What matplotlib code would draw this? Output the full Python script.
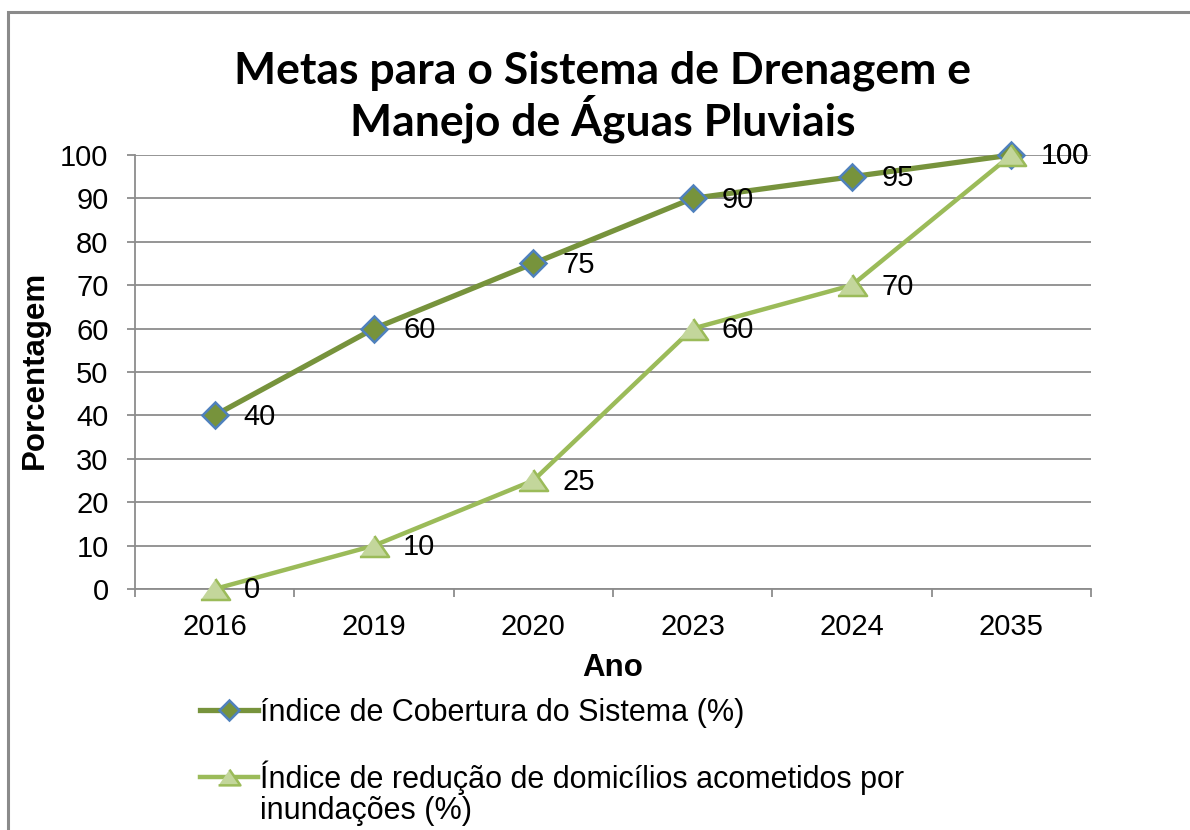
import matplotlib
matplotlib.use('Agg')
import matplotlib.pyplot as plt
from matplotlib.patches import Rectangle

# data
anos = ['2016', '2019', '2020', '2023', '2024', '2035']
cobertura = [40, 60, 75, 90, 95, 100]
reducao = [0, 10, 25, 60, 70, 100]
yticks = list(range(0, 101, 10))

label_cob = 'índice de Cobertura do Sistema (%)'
label_red_1 = 'Índice de redução de domicílios acometidos por'
label_red_2 = 'inundações (%)'

plt.rcParams['font.family'] = ['Liberation Sans', 'DejaVu Sans']

W, H = 1190, 830
fig = plt.figure(figsize=(W / 100, H / 100), dpi=100)
fig.patch.set_facecolor('white')

#outer frame (cropped on right and bottom)
fig.patches.append(Rectangle((8 / W, -0.1), 1.2, (H - 12) / H + 0.1, transform=fig.transFigure,
                             fill=False, edgecolor='#8a8a8a', lw=2.2))

ax = fig.add_axes([135 / W, 1 - 589 / H, (1091 - 135) / W, (589 - 155) / H])
x = list(range(len(anos)))

#grid and axes
ax.set_xlim(-0.5, len(anos) - 0.5)
ax.set_ylim(0, 100)
ax.set_yticks(yticks)
ax.set_xticks(x)
ax.set_xticklabels(anos)
ax.set_xticks([i - 0.5 for i in range(len(anos) + 1)], minor=True)
ax.yaxis.grid(True, color='#8c8c8c', lw=1.3)
ax.set_axisbelow(True)
for s in ['top', 'right']:
    ax.spines[s].set_visible(False)
for s in ['left', 'bottom']:
    ax.spines[s].set_color('#8c8c8c')
    ax.spines[s].set_linewidth(1.3)
ax.tick_params(axis='y', length=6, color='#8c8c8c', width=1.3, labelsize=21, pad=13)
ax.tick_params(axis='x', which='major', length=0, labelsize=21, pad=17)
ax.tick_params(axis='x', which='minor', length=6, color='#8c8c8c', width=1.3)

#series
l1, = ax.plot(x, cobertura, color='#77933C', lw=3.8, marker='D', markersize=13,
              markerfacecolor='#77933C', markeredgecolor='#4F81BD', markeredgewidth=1.8,
              clip_on=False, zorder=3)
tri = [(-1, -0.72), (1, -0.72), (0, 0.72)]
l2, = ax.plot(x, reducao, color='#9BBB59', lw=3.2, marker=tri, markersize=21,
              markerfacecolor='#C3D69B', markeredgecolor='#9BBB59', markeredgewidth=1.8,
              clip_on=False, zorder=4)

for xi, v in zip(x, cobertura):
    ax.annotate(str(v), (xi, v), xytext=(21, -1), textcoords='offset points',
                ha='left', va='center', fontsize=21, zorder=5)
for xi, v in zip(x, reducao):
    ax.annotate(str(v), (xi, v), xytext=(21, -1), textcoords='offset points',
                ha='left', va='center', fontsize=21, zorder=5)

ax.set_xlabel('Ano', fontsize=22.5, fontweight='bold', labelpad=9)
fig.text(35 / W, 1 - 370 / H, 'Porcentagem', rotation=90, ha='center', va='center',
         fontsize=22.5, fontweight='bold')

fig.text(603 / W, 1 - 97 / H, 'Metas para o Sistema de Drenagem e\nManejo de Águas Pluviais',
         ha='center', va='center', fontsize=32, fontweight='bold', family=['Lato', 'DejaVu Sans'],
         linespacing=1.08)

leg = fig.legend([l1, l2], [label_cob, label_red_1], loc='upper left',
                 bbox_to_anchor=(200 / W, 1 - 698 / H), frameon=False, fontsize=22,
                 borderpad=0, borderaxespad=0, handlelength=1.9, handletextpad=0.05,
                 labelspacing=1.05)
for h in leg.legend_handles:
    h.set_markersize(h.get_markersize() * 0.75)

fig.canvas.draw()
bb = leg.get_texts()[1].get_window_extent()
fig.text(bb.x0 / W, (bb.y0 + bb.y1) / 2 / H - 34 / H, label_red_2, ha='left', va='center',
         fontsize=22)

fig.savefig('out.png', dpi=100)
